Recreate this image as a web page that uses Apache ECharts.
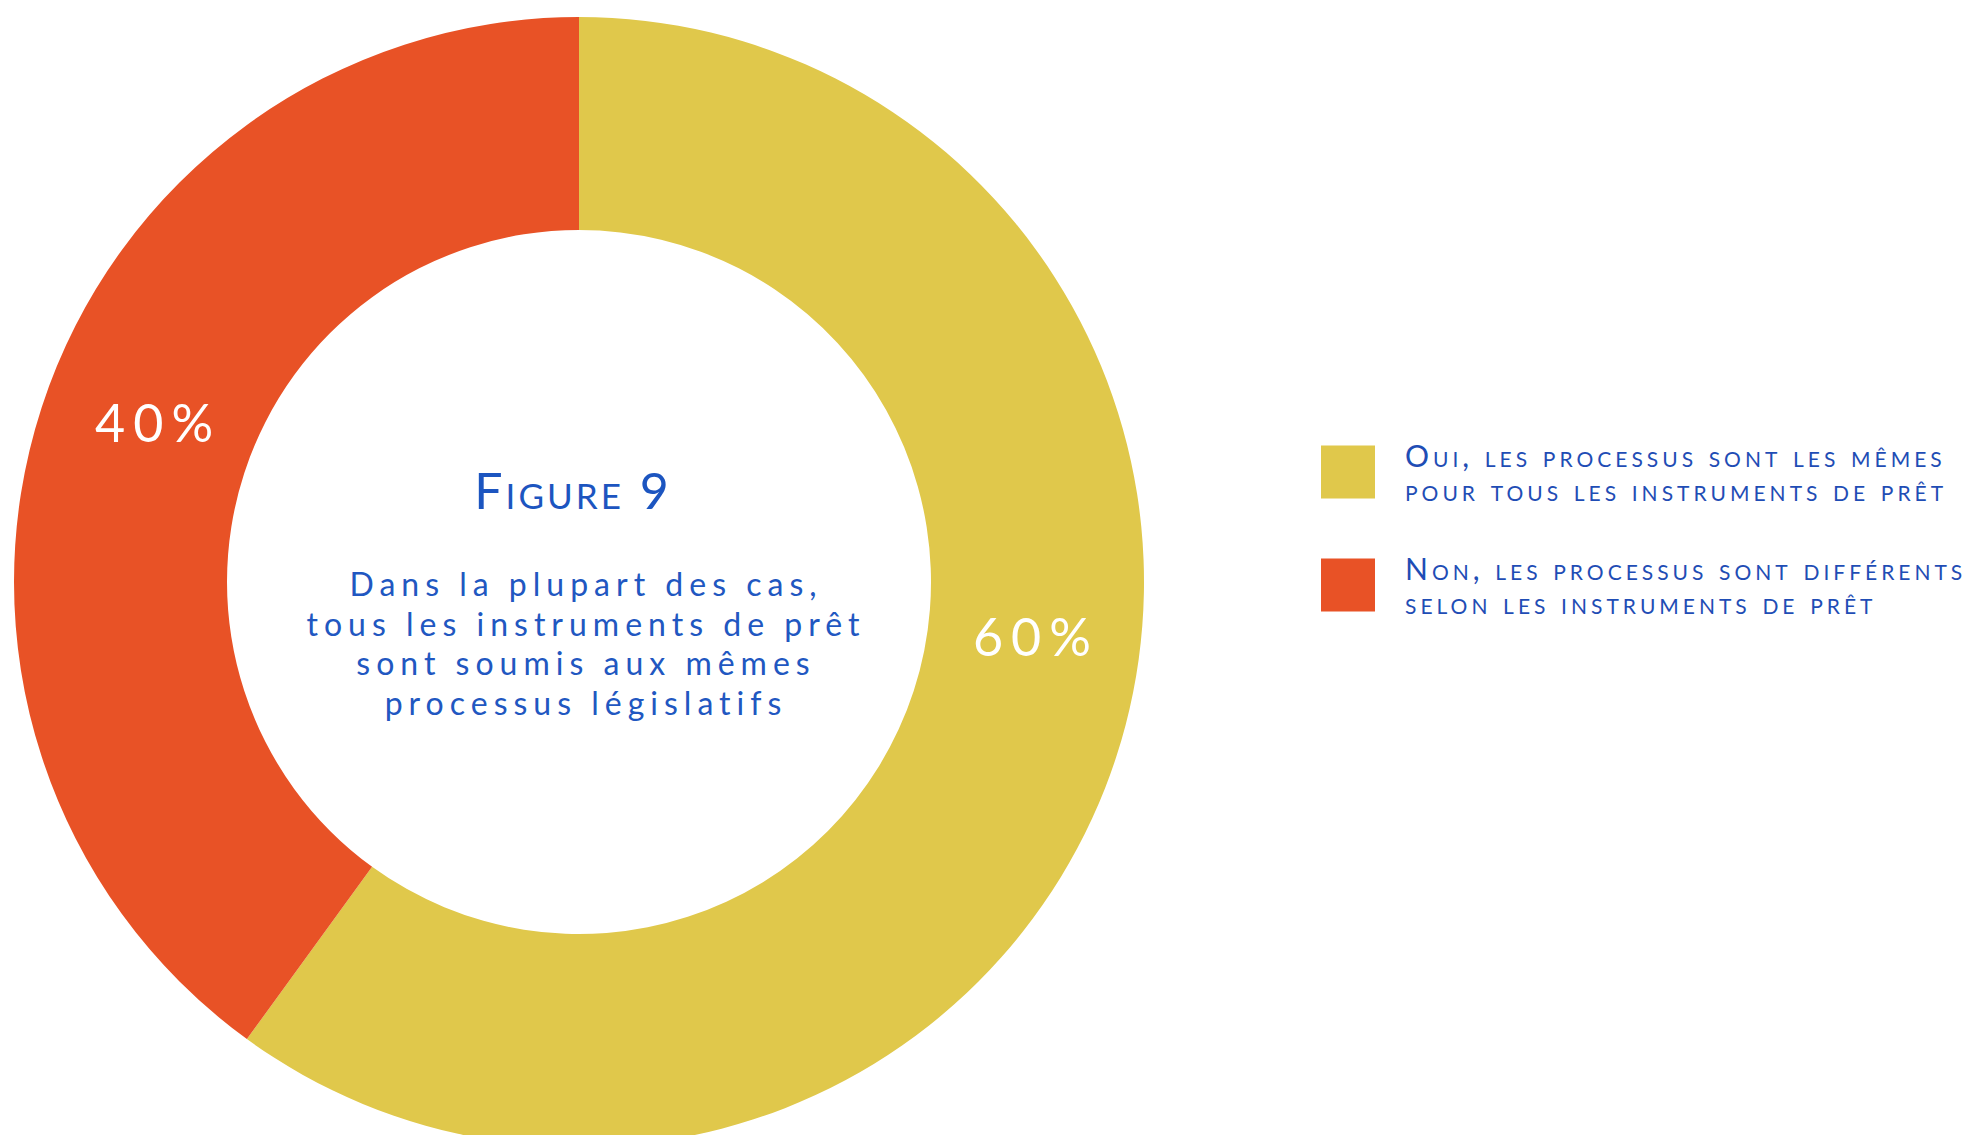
<!DOCTYPE html>
<html>
<head>
<meta charset="utf-8">
<title>Figure 9</title>
<script src="https://cdn.jsdelivr.net/npm/echarts@6/dist/echarts.min.js"></script>
<style>
  html, body { margin: 0; padding: 0; background: #fff; }
  #chart { width: 1987px; height: 1135px; }
  /* echarts has no letterSpacing, so with the svg renderer pick the texts out by fill */
  #chart text[fill="#1c55c0"] { font-variant: small-caps !important; letter-spacing: 3px; }
  #chart text[fill="#2157c1"] { letter-spacing: 6px; }
  #chart text[fill="#1f4db5"] { font-variant: small-caps !important; letter-spacing: 4px; }
  #chart text[fill="#ffffff"] { letter-spacing: 8px; }
</style>
</head>
<body>
<div id="chart"></div>
<script>
"use strict";

// data
const categories = [
  "Oui, les processus sont les mêmes\npour tous les instruments de prêt",
  "Non, les processus sont différents\nselon les instruments de prêt",
];
const shares = [60, 40];
const slice_colors = ["#E0C84B", "#E85226"];
const figure_title = "Figure 9";
const figure_text = [
  "Dans la plupart des cas,",
  "tous les instruments de prêt",
  "sont soumis aux mêmes",
  "processus législatifs",
];

const center = [579, 582];
// labels sit a bit off the ring's mid line in the original
const label_offsets = [[18, -89], [18, -17]];

const chart = echarts.init(document.getElementById("chart"), null, { renderer: "svg" });

chart.setOption({
  animation: false,
  backgroundColor: "#ffffff",
  title: [
    {
      text: figure_title,
      left: 573,
      top: 460,
      textAlign: "center",
      padding: 0,
      textStyle: {
        fontFamily: "Lato",
        fontWeight: "normal",
        fontSize: 50,
        lineHeight: 60,
        color: "#1c55c0",
      },
    },
    {
      text: figure_text.join("\n"),
      left: 586,
      top: 564,
      textAlign: "center",
      padding: 0,
      textStyle: {
        fontFamily: "Lato",
        fontWeight: "normal",
        fontSize: 32,
        lineHeight: 39.5,
        color: "#2157c1",
      },
    },
  ],
  legend: {
    orient: "vertical",
    left: 1321,
    top: 438,
    padding: 0,
    itemWidth: 54,
    itemHeight: 53,
    itemGap: 45,
    icon: "rect",
    selectedMode: false,
    data: categories,
    textStyle: {
      fontFamily: "Lato",
      fontSize: 30,
      lineHeight: 34,
      color: "#1f4db5",
      padding: [0, 0, 0, 25],
    },
  },
  series: [
    {
      type: "pie",
      center: center,
      radius: [352, 565],
      startAngle: 90,
      clockwise: true,
      silent: true,
      avoidLabelOverlap: false,
      itemStyle: { borderWidth: 0, borderRadius: 0 },
      label: {
        show: true,
        position: "inside",
        formatter: (p) => p.value + "%",
        fontFamily: "Lato",
        fontSize: 52,
        color: "#ffffff",
        textBorderWidth: 0,
      },
      labelLine: { show: false },
      data: categories.map((name, i) => ({
        name: name,
        value: shares[i],
        itemStyle: { color: slice_colors[i] },
        label: { offset: label_offsets[i] },
      })),
    },
  ],
});
</script>
</body>
</html>
